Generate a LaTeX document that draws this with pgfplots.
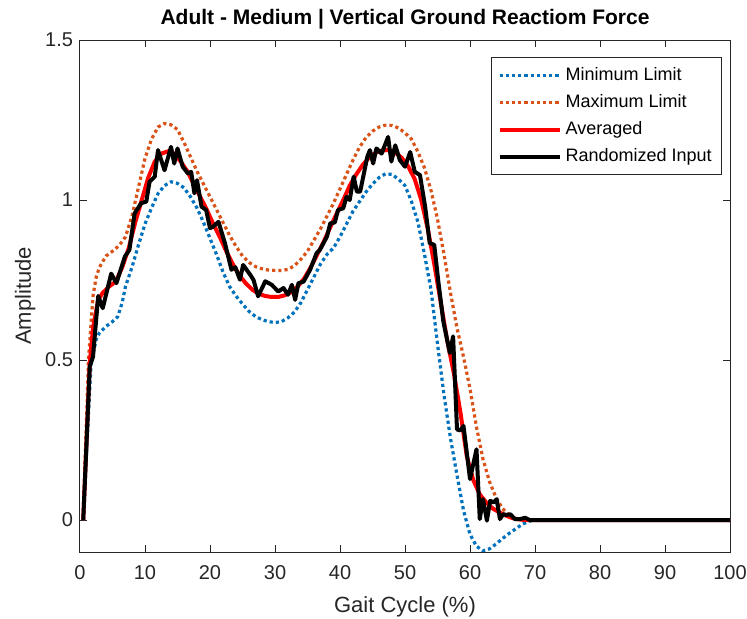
\documentclass[border=0pt]{standalone}
\usepackage{pgfplots}
\pgfplotsset{compat=1.18}
\usepackage{fontspec}
\setmainfont{Liberation Sans}
\definecolor{mblue}{rgb}{0,0.447,0.741}
\definecolor{morange}{rgb}{0.85,0.325,0.098}
\definecolor{axgray}{rgb}{0.15,0.15,0.15}

\begin{document}
\begin{tikzpicture}
\begin{axis}[
  scale only axis, width=325pt, height=256pt,
  xmin=0, xmax=100, ymin=-0.1, ymax=1.5,
  xtick={0,10,...,100}, ytick={0,0.5,1,1.5},
  yticklabels={0,0.5,1,1.5},
  tick align=inside, major tick length=3.5pt,
  axis line style={axgray, line width=0.5pt},
  tick style={axgray, line width=0.5pt},
  /pgf/number format/assume math mode=true,
  ticklabel style={font=\fontsize{10}{12}\selectfont, text=axgray},
  xticklabel style={yshift=-3pt},
  xlabel={Gait Cycle (\%)}, ylabel={Amplitude},
  label style={font=\fontsize{11}{13}\selectfont, text=axgray},
  xlabel style={yshift=-2pt}, ylabel style={yshift=-2pt},
  title={Adult - Medium | Vertical Ground Reactiom Force},
  title style={font=\bfseries\fontsize{10.5}{13}\selectfont, yshift=-4pt},
  legend style={at={(rel axis cs:0.988,0.967)}, anchor=north east,
    font=\fontsize{9}{11}\selectfont, draw=axgray, line width=0.5pt,
    row sep=1.5pt, inner sep=3pt},
  legend cell align=left,
  legend image code/.code={\draw[#1] (0pt,0pt) -- (30pt,0pt);},
  every axis plot/.append style={line width=2pt, line join=round},
  mdot/.style={line width=1.6pt, dash pattern=on 1.6pt off 1.5pt},
]
\addplot[mblue, mdot] coordinates {
(0.5,0)(1.7,0.49)(2.5,0.565)(3,0.585)(4,0.605)(5,0.62)(5.8,0.635)(6.5,0.68)
(7,0.73)(8,0.79)(9,0.86)(10,0.925)(11,0.975)(12,1.02)(13,1.045)(14,1.057)
(15,1.052)(16,1.038)(17,1.01)(18,0.975)(19,0.93)(20,0.88)(21,0.83)(22,0.775)
(23,0.73)(24,0.7)(25,0.675)(26,0.652)(27,0.636)(28,0.626)(29,0.62)(30,0.617)
(31,0.62)(32,0.632)(33,0.65)(34,0.68)(35,0.72)(36,0.76)(37,0.8)(38,0.83)
(39,0.85)(40,0.885)(41,0.925)(42,0.965)(43,0.995)(44,1.025)(45,1.05)(46,1.07)
(47,1.082)(48,1.08)(49,1.065)(50,1.045)(51,0.995)(52,0.93)(53,0.83)(54,0.72)
(55,0.55)(56,0.39)(57,0.255)(58,0.14)(59,0.03)(60,-0.045)(61,-0.082)(62,-0.096)
(63,-0.09)(64,-0.075)(65,-0.058)(66,-0.042)(67,-0.028)(68,-0.014)(69,-0.004)
(70,0)(100,0)
};
\addlegendentry{Minimum Limit}
\addplot[morange, mdot] coordinates {
(0.5,0)(1.3,0.5)(2,0.7)(2.5,0.76)(3,0.79)(4,0.825)(5,0.84)(6,0.857)(7,0.885)
(8,0.95)(9,1.04)(10,1.13)(11,1.19)(12,1.228)(13,1.239)(14,1.235)(15,1.22)
(16,1.18)(17,1.135)(18,1.09)(19,1.05)(20,1.01)(21,0.97)(22,0.93)(23,0.89)
(24,0.855)(25,0.825)(26,0.805)(27,0.792)(28,0.785)(29,0.781)(30,0.78)(31,0.78)
(32,0.783)(33,0.795)(34,0.815)(35,0.84)(36,0.875)(37,0.91)(38,0.95)(39,0.99)
(40,1.035)(41,1.08)(42,1.125)(43,1.165)(44,1.195)(45,1.215)(46,1.228)(47,1.234)
(48,1.233)(49,1.225)(50,1.21)(51,1.19)(52,1.15)(53,1.1)(54,1.03)(55,0.94)
(56,0.83)(57,0.71)(58,0.6)(59,0.51)(60,0.41)(61,0.29)(62,0.19)(63,0.12)
(64,0.07)(65,0.036)(66,0.015)(67,0.005)(68,0.001)(69,0)(100,0)
};
\addlegendentry{Maximum Limit}
\addplot[red] coordinates {
(0.5,0)(1.5,0.49)(2,0.6)(2.8,0.688)(3.5,0.71)(4.5,0.73)(5.5,0.745)(6.5,0.79)
(7.5,0.85)(8.5,0.93)(9.5,1.0)(10.5,1.07)(11.5,1.12)(12.5,1.145)(13.5,1.152)
(14.5,1.145)(15.5,1.12)(16.5,1.09)(17.5,1.05)(18.5,1.01)(19.5,0.97)(20.5,0.925)
(21.5,0.885)(22.5,0.84)(23.5,0.8)(24.5,0.765)(25.5,0.74)(26.5,0.72)(27.5,0.707)
(28.5,0.7)(29.5,0.697)(30.5,0.697)(31.5,0.702)(32.5,0.712)(33.5,0.73)(34.5,0.755)
(35.5,0.79)(36.5,0.83)(37.5,0.87)(38.5,0.915)(39.5,0.958)(40.5,1.0)(41.5,1.045)
(42.5,1.08)(43.5,1.11)(44.5,1.133)(45.5,1.148)(46.5,1.155)(47.5,1.156)(48.5,1.148)
(49.5,1.132)(50.5,1.105)(51.5,1.065)(52.5,1.0)(53.5,0.91)(54.5,0.8)(55.5,0.68)
(56.5,0.56)(57.5,0.46)(58.5,0.34)(59.5,0.2)(60.5,0.125)(61.5,0.08)(62.5,0.055)
(63.5,0.036)(64.5,0.024)(65.5,0.014)(66.5,0.006)(67.5,0.002)(68.5,0)(100,0)
};
\addlegendentry{Averaged}
\addplot[black] coordinates {
(0.5,0)(1.5,0.48)(2,0.51)(2.8,0.70)(3.5,0.662)(4.8,0.77)(5.6,0.74)(6.9,0.823)
(7.6,0.844)(8.4,0.958)(9.4,0.99)(10.2,0.995)(10.7,1.057)(11.5,1.073)(12,1.156)
(13,1.093)(14,1.166)(14.5,1.114)(15,1.161)(15.8,1.104)(16.6,1.083)(17.1,1.088)
(17.6,1.021)(18,1.062)(18.7,0.979)(19.4,0.969)(20,0.912)(20.5,0.917)(21.3,0.932)
(22.3,0.865)(23.3,0.782)(23.9,0.79)(24.6,0.751)(25.1,0.797)(26.2,0.766)(26.7,0.75)
(27.4,0.699)(28.5,0.746)(29.5,0.735)(30.5,0.714)(31.3,0.725)(32,0.704)(32.6,0.735)
(33.1,0.688)(33.6,0.74)(34.4,0.745)(35.4,0.782)(36.4,0.834)(36.9,0.844)(38,0.886)
(38.5,0.927)(39.2,0.93)(39.7,0.969)(40.5,0.974)(41,1.01)(41.5,1.0)(42.1,1.073)
(42.6,1.026)(43.1,1.026)(44.2,1.135)(44.6,1.156)(45.1,1.114)(45.6,1.161)(46.4,1.145)
(47.4,1.197)(47.9,1.12)(48.5,1.171)(49.2,1.125)(50,1.104)(50.8,1.15)(51.5,1.088)
(52.3,1.078)(53.1,0.979)(53.8,0.865)(54.5,0.86)(55.1,0.75)(55.9,0.62)(56.9,0.522)
(57.4,0.574)(58,0.283)(58.5,0.28)(59,0.294)(60,0.128)(61,0.221)(61.5,0.003)
(62,0.065)(62.6,-0.002)(63.1,0.06)(63.6,0.055)(64.1,0.065)(64.6,0.003)(65.1,0.018)
(65.6,0.016)(66.2,0.018)(66.9,0.003)(67.7,0.003)(68.5,0.007)(69.2,0)(100,0)
};
\addlegendentry{Randomized Input}
\end{axis}
\pgfresetboundingbox
\path[use as bounding box] (-40pt,-33pt) rectangle (333.5pt,276pt);
\end{tikzpicture}
\end{document}
